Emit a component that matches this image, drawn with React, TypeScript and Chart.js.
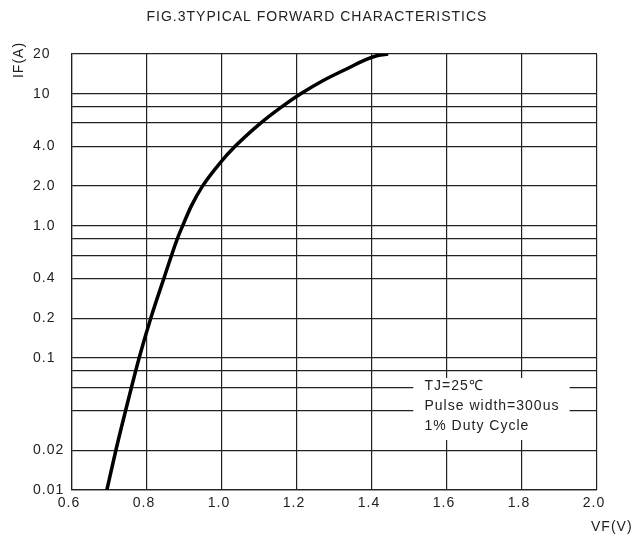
import React, { useEffect, useRef } from 'react';
import { Chart, registerables } from 'chart.js';

Chart.register(...registerables);

const TITLE = 'FIG.3TYPICAL FORWARD CHARACTERISTICS';
const X_TITLE = 'VF(V)';
const Y_TITLE = 'IF(A)';

// Forward voltage (V) and forward current (A)
const vfValues = [0.693, 0.717, 0.743, 0.779, 0.81, 0.845, 0.881, 0.895, 0.918, 0.948, 0.995, 1.035, 1.103, 1.16, 1.21, 1.27, 1.34, 1.385, 1.415, 1.443];
const ifValues = [0.01, 0.02, 0.04, 0.1, 0.2, 0.4, 0.8, 1.0, 1.41, 2.0, 3.0, 4.0, 6.0, 8.0, 10, 12.6, 15.8, 18.2, 19.5, 20];

const xTickValues = [0.6, 0.8, 1.0, 1.2, 1.4, 1.6, 1.8, 2.0];
const yGridValues = [0.01, 0.02, 0.04, 0.06, 0.08, 0.1, 0.2, 0.4, 0.6, 0.8, 1, 2, 4, 6, 8, 10, 20];
const yTickValues = [0.01, 0.02, 0.1, 0.2, 0.4, 1, 2, 4, 10, 20];
const yTickTexts = ['0.01', '0.02', '0.1', '0.2', '0.4', '1.0', '2.0', '4.0', '10', '20'];

const noteLines = ['TJ=25\u2103', 'Pulse width=300us', '1% Duty Cycle'];

const FONT_FAMILY = '"Liberation Sans", Arial, sans-serif';
const INK = '#222';

const labelFor = (v: number): string => {
  for (let i = 0; i < yTickValues.length; i++) {
    if (Math.abs(yTickValues[i] - v) / yTickValues[i] < 1e-6) return yTickTexts[i];
  }
  return '';
};

const decorPlugin = {
  id: 'decor',
  beforeDraw(chart: any) {
    chart.ctx.letterSpacing = '1px';
  },
  beforeDatasetsDraw(chart: any) {
    const ctx = chart.ctx;
    const xs = chart.scales.x;
    const ys = chart.scales.y;
    // white note box interrupting the grid
    const x0 = xs.getPixelForValue(1.51);
    const x1 = xs.getPixelForValue(1.927);
    const y0 = ys.getPixelForValue(0.0705);
    const y1 = ys.getPixelForValue(0.0239);
    ctx.save();
    ctx.fillStyle = '#fff';
    ctx.fillRect(x0, y0, x1 - x0, y1 - y0);
    ctx.fillStyle = INK;
    ctx.font = '14px ' + FONT_FAMILY;
    ctx.textAlign = 'left';
    ctx.textBaseline = 'middle';
    const tx = xs.getPixelForValue(1.54);
    const lineYs = [0.0607, 0.0429, 0.0305];
    noteLines.forEach((t, i) => {
      ctx.fillText(t, tx, ys.getPixelForValue(lineYs[i]));
    });
    ctx.restore();
  },
  afterDraw(chart: any) {
    const ctx = chart.ctx;
    const area = chart.chartArea;
    ctx.save();
    ctx.fillStyle = INK;
    ctx.font = '14px ' + FONT_FAMILY;
    ctx.textBaseline = 'middle';
    ctx.textAlign = 'center';
    ctx.fillText(TITLE, 317, 17);
    ctx.textAlign = 'left';
    ctx.fillText(X_TITLE, area.right - 6, 527);
    ctx.translate(19, 60);
    ctx.rotate(-Math.PI / 2);
    ctx.textAlign = 'center';
    ctx.fillText(Y_TITLE, 0, 0);
    ctx.restore();
  },
};

export default function App() {
  const canvasRef = useRef<HTMLCanvasElement | null>(null);

  useEffect(() => {
    const canvas = canvasRef.current;
    if (!canvas) return;
    const chart = new Chart(canvas, {
      type: 'line',
      data: {
        datasets: [
          {
            data: vfValues.map((v, i) => ({ x: v, y: ifValues[i] })),
            borderColor: '#000',
            borderWidth: 3.5,
            pointRadius: 0,
            fill: false,
            cubicInterpolationMode: 'monotone',
          },
        ],
      },
      options: {
        responsive: false,
        animation: false,
        layout: { padding: { left: 33, top: 54, right: 34, bottom: 0 } },
        plugins: {
          legend: { display: false },
          title: { display: false },
          tooltip: { enabled: false },
        },
        scales: {
          x: {
            type: 'linear',
            min: 0.6,
            max: 2.0,
            afterBuildTicks: (scale: any) => {
              scale.ticks = xTickValues.map((v) => ({ value: v }));
            },
            afterFit: (scale: any) => {
              scale.height = 49;
            },
            ticks: {
              callback: (v: any) => Number(v).toFixed(1),
              color: INK,
              font: { family: FONT_FAMILY, size: 14 },
              padding: 5,
              labelOffset: -3,
              maxRotation: 0,
              autoSkip: false,
            },
            grid: { color: INK, lineWidth: 1.2, drawTicks: false },
            border: { color: INK, width: 1.2 },
          },
          y: {
            type: 'logarithmic',
            min: 0.01,
            max: 20,
            afterBuildTicks: (scale: any) => {
              scale.ticks = yGridValues.map((v) => ({ value: v }));
            },
            afterFit: (scale: any) => {
              scale.width = 39;
            },
            ticks: {
              callback: (v: any) => labelFor(Number(v)),
              color: INK,
              font: { family: FONT_FAMILY, size: 14 },
              crossAlign: 'far',
              autoSkip: false,
            },
            grid: { color: INK, lineWidth: 1.2, drawTicks: false },
            border: { color: INK, width: 1.2 },
          },
        },
      },
      plugins: [decorPlugin],
    } as any);
    return () => chart.destroy();
  }, []);

  return (
    <div style={{ position: 'absolute', left: 0, top: 0, width: 631, height: 539, background: '#fff' }}>
      <canvas ref={canvasRef} width={631} height={539} style={{ width: 631, height: 539, display: 'block' }} />
    </div>
  );
}
